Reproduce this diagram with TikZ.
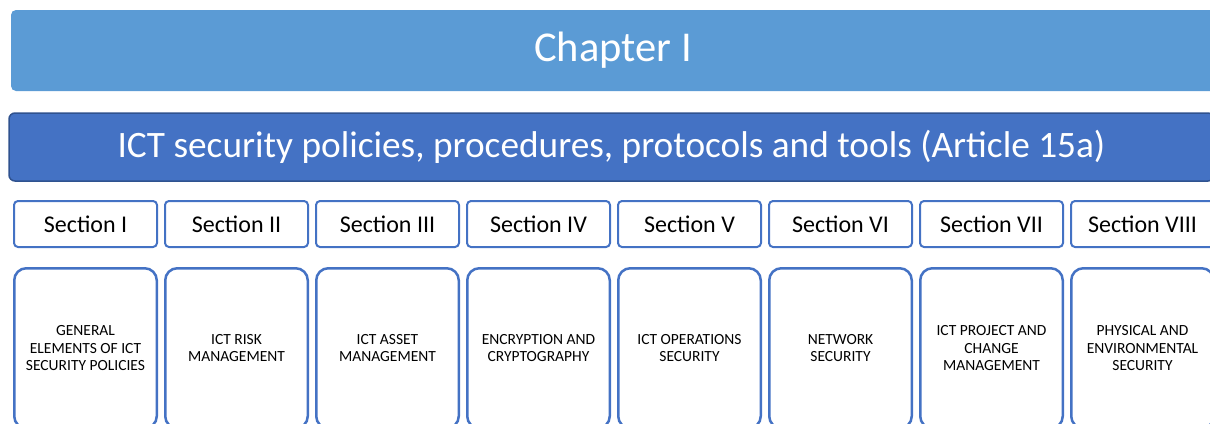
\documentclass[tikz,border=0pt]{standalone}
\usepackage{fontspec}
\setmainfont{Carlito}
\usetikzlibrary{positioning}
\definecolor{cChap}{HTML}{5B9BD5}
\definecolor{cArt}{HTML}{4472C4}
\definecolor{cArtLine}{HTML}{2F528F}
\tikzset{
    % title bars
    chapNode/.style={
        rectangle, rounded corners=5pt, fill=cChap, text=white,
        minimum width=1204pt, minimum height=81pt, inner sep=0pt,
        font=\fontsize{42.5}{48}\selectfont
    },
    artNode/.style={
        rectangle, rounded corners=6pt, fill=cArt, draw=cArtLine, line width=1.5pt,
        text=white, minimum width=1205pt, minimum height=68pt, inner sep=0pt,
        font=\fontsize{37.3}{44}\selectfont
    },
    % section heads
    secNode/.style={
        rectangle, rounded corners=4pt, draw=cArt, line width=2pt,
        minimum width=143pt, minimum height=46pt, inner sep=0pt,
        font=\fontsize{24}{28}\selectfont
    },
    % section topics
    topicNode/.style={
        rectangle, rounded corners=12pt, draw=cArt, line width=2.5pt,
        minimum width=142.5pt, minimum height=160pt, inner sep=2pt,
        align=center, font=\fontsize{15.5}{17.5}\selectfont
    }
}

\begin{document}
\begin{tikzpicture}[x=1pt, y=1pt, node distance=6pt and 6pt]

	\path[use as bounding box] (0,0) rectangle (1210,-423);
	\clip (0,0) rectangle (1210,-423);

	% 1. Chapter and article bars
	\node[chapNode] (chapter) at (613,-50.5) {Chapter I};
	\node[artNode] (article) at (611.5,-147) {ICT security policies, procedures, protocols and tools (Article 15a)};

	% 2. Section heads
	\node[secNode] (secI) at (85.5,-224) {Section I};
	\node[secNode, right=of secI] (secII) {Section II};
	\node[secNode, right=of secII] (secIII) {Section III};
	\node[secNode, right=of secIII] (secIV) {Section IV};
	\node[secNode, right=of secIV] (secV) {Section V};
	\node[secNode, right=of secV] (secVI) {Section VI};
	\node[secNode, right=of secVI] (secVII) {Section VII};
	\node[secNode, right=of secVII] (secVIII) {Section VIII};

	% 3. Topics
	\node[topicNode, below=19pt of secI] (topI) {GENERAL\\ELEMENTS OF ICT\\SECURITY POLICIES};
	\node[topicNode, below=19pt of secII] (topII) {ICT RISK\\MANAGEMENT};
	\node[topicNode, below=19pt of secIII] (topIII) {ICT ASSET\\MANAGEMENT};
	\node[topicNode, below=19pt of secIV] (topIV) {ENCRYPTION AND\\CRYPTOGRAPHY};
	\node[topicNode, below=19pt of secV] (topV) {ICT OPERATIONS\\SECURITY};
	\node[topicNode, below=19pt of secVI] (topVI) {NETWORK\\SECURITY};
	\node[topicNode, below=19pt of secVII] (topVII) {ICT PROJECT AND\\CHANGE\\MANAGEMENT};
	\node[topicNode, below=19pt of secVIII] (topVIII) {PHYSICAL AND\\ENVIRONMENTAL\\SECURITY};

\end{tikzpicture}
\end{document}
